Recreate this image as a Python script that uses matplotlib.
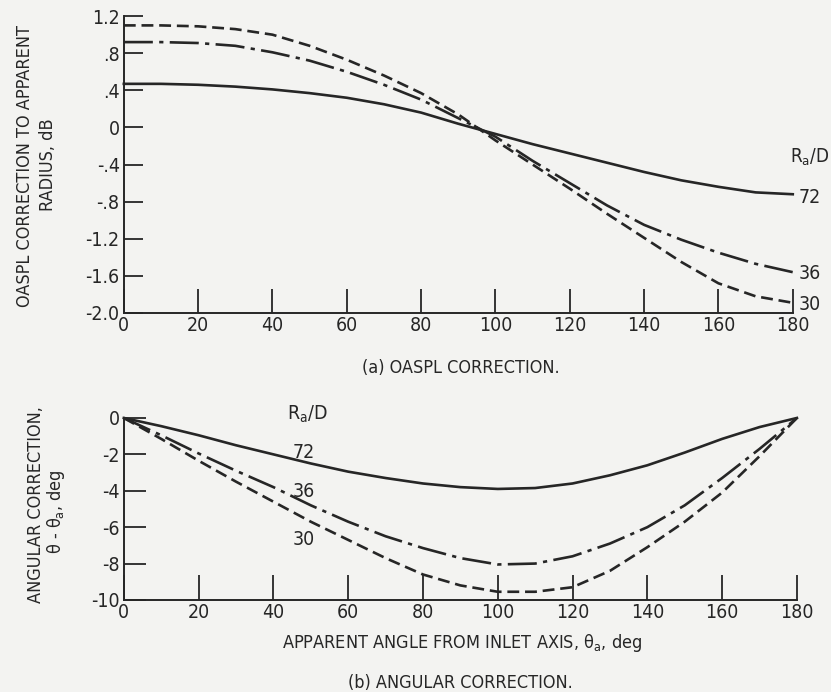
import numpy as np
import matplotlib
matplotlib.use("Agg")
import matplotlib.pyplot as plt

plt.rcParams['font.family'] = ['DejaVu Sans']
plt.rcParams['font.stretch'] = 'condensed'
plt.rcParams['mathtext.fontset'] = 'custom'
plt.rcParams['mathtext.rm'] = 'DejaVu Sans:stretch=condensed'
plt.rcParams['mathtext.it'] = 'DejaVu Sans:stretch=condensed'

INK = '#262626'
PAPER = '#f3f3f1'

# apparent angle from inlet axis, deg
angle = [0, 10, 20, 30, 40, 50, 60, 70, 80, 90, 100, 110, 120, 130, 140, 150, 160, 170, 180]

# (a) OASPL correction, dB, for Ra/D = 72, 36, 30
oaspl_72 = [0.47, 0.47, 0.46, 0.44, 0.41, 0.37, 0.32, 0.25, 0.16, 0.04, -0.07, -0.18, -0.28,
            -0.38, -0.48, -0.57, -0.64, -0.70, -0.72]
oaspl_36 = [0.92, 0.92, 0.91, 0.88, 0.81, 0.72, 0.60, 0.46, 0.30, 0.10, -0.10, -0.36, -0.60,
            -0.84, -1.05, -1.21, -1.35, -1.47, -1.56]
oaspl_30 = [1.10, 1.10, 1.09, 1.06, 1.00, 0.88, 0.73, 0.56, 0.37, 0.14, -0.14, -0.40, -0.66,
            -0.93, -1.19, -1.45, -1.68, -1.82, -1.89]

# (b) angular correction, deg
ang_72 = [0, -0.45, -0.95, -1.5, -2.0, -2.5, -2.95, -3.3, -3.6, -3.8, -3.9, -3.85, -3.6,
          -3.15, -2.6, -1.9, -1.15, -0.5, 0]
ang_36 = [0, -0.95, -1.95, -2.9, -3.8, -4.8, -5.7, -6.5, -7.15, -7.7, -8.05, -8.0, -7.6,
          -6.9, -6.0, -4.8, -3.3, -1.7, 0]
ang_30 = [0, -1.15, -2.35, -3.5, -4.6, -5.7, -6.7, -7.7, -8.6, -9.2, -9.55, -9.55, -9.3,
          -8.4, -7.1, -5.7, -4.1, -2.1, 0]

ratio_labels = ['72', '36', '30']

x_ticks = [0, 20, 40, 60, 80, 100, 120, 140, 160, 180]
top_yticks = [1.2, 0.8, 0.4, 0, -0.4, -0.8, -1.2, -1.6, -2.0]
top_yticklabels = ['1.2', '.8', '.4', '0', '-.4', '-.8', '-1.2', '-1.6', '-2.0']
bot_yticks = [0, -2, -4, -6, -8, -10]
bot_yticklabels = ['0', '-2', '-4', '-6', '-8', '-10']

styles = [
    dict(linestyle='-'),
    dict(linestyle=(0, (11, 2.4, 1.6, 2.4))),
    dict(linestyle=(0, (4.5, 2.2))),
]

FS = 14     # tick labels and curve labels
FS_T = 13   # titles and captions

fig = plt.figure(figsize=(8.31, 6.92), dpi=100, facecolor=PAPER)
ax1 = fig.add_axes([0.149, 0.5477, 0.805, 0.429])
ax2 = fig.add_axes([0.149, 0.133, 0.81, 0.263])


def style_axes(ax, yticks, yticklabels, ylim, ylen, xlen):
    ax.set_facecolor(PAPER)
    ax.set_xlim(0, 180)
    ax.set_ylim(*ylim)
    for s in ['top', 'right']:
        ax.spines[s].set_visible(False)
    for s in ['left', 'bottom']:
        ax.spines[s].set_linewidth(1.4)
        ax.spines[s].set_color(INK)
    ax.set_xticks(x_ticks)
    ax.set_xticklabels([str(v) for v in x_ticks])
    ax.set_yticks(yticks)
    ax.set_yticklabels(yticklabels)
    ax.tick_params(axis='y', direction='in', length=ylen, width=1.3, pad=3,
                   labelsize=FS, colors=INK)
    ax.tick_params(axis='x', direction='in', length=xlen, width=1.3, pad=2,
                   labelsize=FS, colors=INK)


style_axes(ax1, top_yticks, top_yticklabels, (-2.0, 1.2), 14, 17)
style_axes(ax2, bot_yticks, bot_yticklabels, (-10, 0), 16, 18)

for ys, st in zip([oaspl_72, oaspl_36, oaspl_30], styles):
    ax1.plot(angle, ys, color=INK, lw=1.9, clip_on=False, **st)
for ys, st in zip([ang_72, ang_36, ang_30], styles):
    ax2.plot(angle, ys, color=INK, lw=1.9, clip_on=False, **st)

# curve labels, panel (a)
fig.text(810 / 831, 1 - 157 / 692, r'R$_\mathregular{a}$/D', fontsize=FS - 0.5, color=INK,
         ha='center', va='center')
for lab, y in zip(ratio_labels, [-0.75, -1.57, -1.91]):
    ax1.text(181.5, y, lab, fontsize=FS, color=INK, ha='left', va='center', clip_on=False)

# curve labels, panel (b)
ax2.text(49, 0.2, r'R$_\mathregular{a}$/D', fontsize=FS, color=INK,
         ha='center', va='center', clip_on=False)
for lab, y in zip(ratio_labels, [-1.9, -4.05, -6.7]):
    ax2.text(48, y, lab, fontsize=FS, color=INK, ha='center', va='center')

# axis titles
fig.text(25 / 831, 1 - 166 / 692, 'OASPL CORRECTION TO APPARENT', rotation=90,
         fontsize=FS_T, color=INK, ha='center', va='center')
fig.text(48 / 831, 1 - 165 / 692, 'RADIUS, dB', rotation=90,
         fontsize=FS_T, color=INK, ha='center', va='center')
fig.text(36 / 831, 1 - 505 / 692, 'ANGULAR CORRECTION,', rotation=90,
         fontsize=FS_T, color=INK, ha='center', va='center')
fig.text(56 / 831, 1 - 512 / 692, r'$\theta$ - $\theta_\mathregular{a}$, deg', rotation=90,
         fontsize=FS_T, color=INK, ha='center', va='center')
fig.text(462 / 831, 1 - 643 / 692, r'APPARENT ANGLE FROM INLET AXIS, $\theta_\mathregular{a}$, deg',
         fontsize=FS_T, color=INK, ha='center', va='center')

# panel captions
fig.text(461 / 831, 1 - 368 / 692, '(a) OASPL CORRECTION.', fontsize=FS_T, color=INK,
         ha='center', va='center')
fig.text(460 / 831, 1 - 683 / 692, '(b) ANGULAR CORRECTION.', fontsize=FS_T, color=INK,
         ha='center', va='center')

fig.savefig('out.png', dpi=100, facecolor=PAPER)
